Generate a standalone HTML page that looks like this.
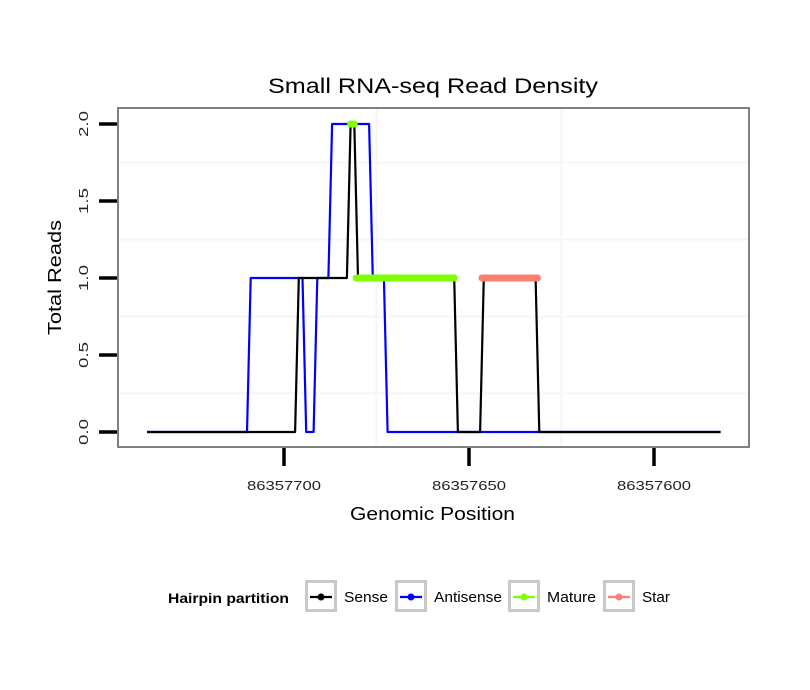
<!DOCTYPE html>
<html><head><meta charset="utf-8"><style>
html,body{margin:0;padding:0;background:#fff;}
svg{display:block;font-family:"Liberation Sans",sans-serif;}
</style></head><body>
<svg id="chart" width="810" height="690">
<text x="268" y="93" font-size="21" textLength="330" lengthAdjust="spacingAndGlyphs">Small RNA-seq Read Density</text>
<g id="grid"></g>
<g id="series"></g>
<rect x="118" y="108" width="631" height="339" fill="none" stroke="#808080" stroke-width="2"/>
<g id="axes"></g>
<text x="350" y="520" font-size="18" textLength="165" lengthAdjust="spacingAndGlyphs">Genomic Position</text>
<text transform="translate(61,335) rotate(-90)" font-size="18" textLength="115" lengthAdjust="spacingAndGlyphs">Total Reads</text>
<g>
<text x="168" y="603" font-size="14" font-weight="bold" textLength="121" lengthAdjust="spacingAndGlyphs">Hairpin partition</text>
<g id="legend-items"></g>
</g>
</svg>
<script>
const B = 86357000;
const sensePos = [737,697,696,683,682,681,680,654,653,647,646,632,631,582];
const senseVal = [0,0,1,1,2,2,1,1,0,0,1,1,0,0];
const antiPos = [737,710,709,695,694,692,691,688,687,677,676,673,672,582];
const antiVal = [0,0,1,1,0,0,1,1,2,2,1,1,0,0];
const maturePos = [[682,681],[680.5,654]];
const matureVal = [2,1];
const starPos = [[646.5,631.5]];
const starVal = [1];
const yTicks = [0,0.5,1,1.5,2];
const yTickLabels = ["0.0","0.5","1.0","1.5","2.0"];
const xTicks = [86357700,86357650,86357600];
const xTickLabels = ["86357700","86357650","86357600"];

const NS="http://www.w3.org/2000/svg";
function xs(p){return 284+(86357700-p)*3.7;}
function ys(v){return 432-v*154;}
function mk(tag,attrs,parent){const e=document.createElementNS(NS,tag);for(const k in attrs)e.setAttribute(k,attrs[k]);parent.appendChild(e);return e;}
const grid=document.getElementById('grid'),ser=document.getElementById('series'),ax=document.getElementById('axes');
[0.25,0.75,1.25,1.75].forEach(v=>{const l=mk('line',{x1:119,x2:748,y1:ys(v),y2:ys(v),stroke:'#f6f6f6','stroke-width':2},grid);

});
[86357675,86357625].forEach(p=>{const x=xs(p);const l=mk('line',{x1:x,x2:x,y1:109,y2:446,stroke:'#f6f6f6','stroke-width':2},grid);

});
function poly(pos,val,color,name){const pts=pos.map((p,i)=>xs(B+p)+','+ys(val[i])).join(' ');
const e=mk('polyline',{points:pts,fill:'none',stroke:color,'stroke-width':2.2,'stroke-linejoin':'round'},ser);

}
poly(antiPos,antiVal,'#0000ff','antisense-line');
poly(sensePos,senseVal,'#000000','sense-line');
function segs(arr,val,color,name){arr.forEach((s,i)=>{const e=mk('line',{x1:xs(B+s[0]),x2:xs(B+s[1]),y1:ys(val[i]),y2:ys(val[i]),stroke:color,'stroke-width':7,'stroke-linecap':'round'},ser);

});}
segs(maturePos,matureVal,'#7fff00','mature-segment');
segs(starPos,starVal,'#fa8072','star-segment');
yTicks.forEach((v,i)=>{const t=mk('line',{x1:99,x2:117,y1:ys(v),y2:ys(v),stroke:'#000','stroke-width':3.5},ax);


const tx=mk('text',{transform:'translate(88,'+ys(v)+') rotate(-90)','font-size':13,'text-anchor':'middle','fill':'#222',textLength:26,lengthAdjust:'spacingAndGlyphs'},ax);tx.textContent=yTickLabels[i];

});
xTicks.forEach((p,i)=>{const x=xs(p);const t=mk('line',{x1:x,x2:x,y1:448,y2:466,stroke:'#000','stroke-width':3.5},ax);


const tx=mk('text',{x:x-37,y:490,'font-size':13,'fill':'#222',textLength:74,lengthAdjust:'spacingAndGlyphs'},ax);tx.textContent=xTickLabels[i];

});
const leg=document.getElementById('legend-items');
const legNames=['Sense','Antisense','Mature','Star'];
const legColors=['#000000','#0000ff','#7fff00','#fa8072'];
const legX=[305,395,508,603];
const legW=[44,68,49,28];
legNames.forEach((n,i)=>{const g=mk('g',{},leg);


const bx=legX[i];
mk('rect',{x:bx+1.5,y:581.5,width:29,height:29,fill:'#fff',stroke:'#c8c8c8','stroke-width':3},g);
mk('line',{x1:bx+5,x2:bx+27,y1:597,y2:597,stroke:legColors[i],'stroke-width':2.2},g);
mk('circle',{cx:bx+16,cy:597,r:3.5,fill:legColors[i]},g);
const t=mk('text',{x:bx+39,y:602,'font-size':15,textLength:legW[i],lengthAdjust:'spacingAndGlyphs'},g);t.textContent=n;});
</script>
</body></html>
